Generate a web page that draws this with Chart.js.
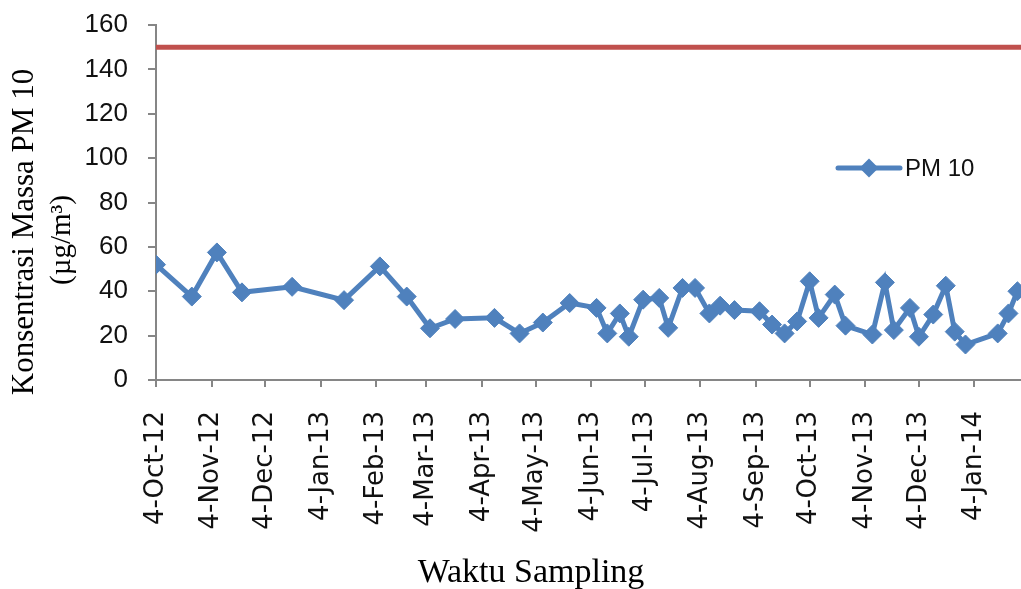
<!DOCTYPE html>
<html><head><meta charset="utf-8">
<script src="https://cdn.jsdelivr.net/npm/chart.js@4.4.1/dist/chart.umd.min.js"></script>
<style>html,body{margin:0;padding:0;background:#fff;overflow:hidden;} #wrap{width:1021px;height:589px;position:relative;}</style>
</head><body><div id="wrap"><canvas id="c"></canvas></div>
<script>
// ---- data ----
const sampleDates = [
  '2012-10-04','2012-10-24','2012-11-07','2012-11-21','2012-12-19','2013-01-17','2013-02-06','2013-02-21',
  '2013-03-06','2013-03-20','2013-04-11','2013-04-25','2013-05-08','2013-05-23','2013-06-07','2013-06-13',
  '2013-06-20','2013-06-25','2013-07-03','2013-07-12','2013-07-17','2013-07-25','2013-08-01','2013-08-09',
  '2013-08-15','2013-08-23','2013-09-06','2013-09-13','2013-09-20','2013-09-27','2013-10-04','2013-10-09',
  '2013-10-18','2013-10-24','2013-11-08','2013-11-15','2013-11-20','2013-11-29','2013-12-04','2013-12-12',
  '2013-12-19','2013-12-24','2013-12-30','2014-01-17','2014-01-23','2014-01-28'
];
const pm10Values = [
  52, 37.6, 57.5, 39.5, 42, 36, 51.2, 37.6,
  23.3, 27.5, 28, 21, 25.9, 34.7, 32.5, 21,
  30, 19.5, 36.2, 37, 23.5, 41.5, 41.5, 30,
  33.5, 31.5, 31, 25, 21, 26.4, 44.5, 28,
  38.5, 24.5, 20.5, 44, 22.5, 32.5, 19.5, 29.5,
  42.5, 21.8, 16, 21, 30, 40
];
const seriesName = 'PM 10';
const thresholdValue = 150;
const axisStartDate = '2012-10-04';
const axisEndDate = '2014-01-30';
const xTickDates = ['2012-10-04','2012-11-04','2012-12-04','2013-01-04','2013-02-04','2013-03-04','2013-04-04','2013-05-04',
  '2013-06-04','2013-07-04','2013-08-04','2013-09-04','2013-10-04','2013-11-04','2013-12-04','2014-01-04'];
const xTickLabels = ['4-Oct-12','4-Nov-12','4-Dec-12','4-Jan-13','4-Feb-13','4-Mar-13','4-Apr-13','4-May-13',
  '4-Jun-13','4-Jul-13','4-Aug-13','4-Sep-13','4-Oct-13','4-Nov-13','4-Dec-13','4-Jan-14'];
const yMin = 0, yMax = 160, yStep = 20;
const xAxisTitle = 'Waktu Sampling';
const yAxisTitleLines = ['Konsentrasi Massa PM 10', '(µg/m³)'];

// ---- helpers ----
function dayNum(s){
  const p = s.split('-').map(Number);
  const b = axisStartDate.split('-').map(Number);
  return (Date.UTC(p[0],p[1]-1,p[2]) - Date.UTC(b[0],b[1]-1,b[2]))/86400000;
}
const xMin = dayNum(axisStartDate), xMax = dayNum(axisEndDate);
const tickVals = xTickDates.map(dayNum);
const labelMap = {};
tickVals.forEach((v,i)=>{labelMap[v]=xTickLabels[i];});

const BLUE = '#4F81BD', RED = '#C0504D', AXIS = '#868686';

const annot = {
  id:'annot',
  afterDraw(chart){
    const ctx = chart.ctx;
    ctx.save();
    ctx.fillStyle = '#000';
    ctx.textAlign = 'center';
    ctx.textBaseline = 'alphabetic';
    ctx.font = '34px "Liberation Serif"';
    ctx.fillText(xAxisTitle, 531, 582);
    ctx.restore();

    ctx.save();
    ctx.fillStyle = '#000';
    ctx.textAlign = 'center';
    ctx.textBaseline = 'alphabetic';
    ctx.translate(33, 232); ctx.rotate(-Math.PI/2);
    ctx.font = '31px "Liberation Serif"';
    ctx.fillText(yAxisTitleLines[0], 0, 0);
    ctx.restore();

    ctx.save();
    ctx.fillStyle = '#000';
    ctx.textAlign = 'center';
    ctx.textBaseline = 'alphabetic';
    ctx.translate(70, 240); ctx.rotate(-Math.PI/2);
    ctx.font = '29px "Liberation Serif"';
    ctx.fillText(yAxisTitleLines[1], 0, 0);
    ctx.restore();

    // legend
    const ly = 168, lx0 = 838, lx1 = 900, mx = 869, r = 9.5;
    ctx.save();
    ctx.strokeStyle = BLUE; ctx.lineWidth = 5; ctx.lineCap = 'round';
    ctx.beginPath(); ctx.moveTo(lx0, ly); ctx.lineTo(lx1, ly); ctx.stroke();
    ctx.fillStyle = BLUE;
    ctx.beginPath(); ctx.moveTo(mx-r, ly); ctx.lineTo(mx, ly-r); ctx.lineTo(mx+r, ly); ctx.lineTo(mx, ly+r); ctx.closePath(); ctx.fill();
    ctx.fillStyle = '#111';
    ctx.font = '24px "Liberation Sans"';
    ctx.textAlign = 'left'; ctx.textBaseline = 'middle';
    ctx.fillText(seriesName, 905, ly+1);
    ctx.restore();
  }
};

new Chart(document.getElementById('c'), {
  type: 'line',
  data: {
    datasets: [
      {
        label: seriesName,
        data: sampleDates.map((d,i)=>({x: dayNum(d), y: pm10Values[i]})),
        borderColor: BLUE, backgroundColor: BLUE,
        borderWidth: 5, tension: 0,
        pointStyle: 'rectRot', pointRadius: 9.5, pointBorderWidth: 1,
        pointBackgroundColor: BLUE, pointBorderColor: BLUE
      },
      {
        label: 'Baku mutu',
        data: [{x: xMin, y: thresholdValue}, {x: xMax, y: thresholdValue}],
        borderColor: RED, borderWidth: 5, pointRadius: 0, tension: 0
      }
    ]
  },
  options: {
    responsive: true, maintainAspectRatio: false, animation: false,
    layout: { autoPadding: false, padding: { left: 0, right: 0, top: 25, bottom: 0 } },
    plugins: { legend: { display: false }, tooltip: { enabled: false } },
    scales: {
      x: {
        type: 'linear', min: xMin, max: xMax,
        afterBuildTicks: (s) => { s.ticks = tickVals.map(v=>({value:v})); },
        afterFit: (s) => { s.height = 209; s.paddingLeft = 0; s.paddingRight = 0; },
        border: { display: true, color: AXIS, width: 2 },
        grid: { display: true, drawOnChartArea: false, drawTicks: true, tickLength: 7, color: AXIS, lineWidth: 2 },
        ticks: {
          autoSkip: false, maxRotation: 90, minRotation: 90, padding: 24,
          color: '#111', font: { family: 'DejaVu Sans', size: 26 },
          callback: (v) => labelMap[v] !== undefined ? labelMap[v] : ''
        }
      },
      y: {
        min: yMin, max: yMax,
        afterFit: (s) => { s.width = 156; s.paddingTop = 0; s.paddingBottom = 0; },
        border: { display: true, color: AXIS, width: 2 },
        grid: { display: true, drawOnChartArea: false, drawTicks: true, tickLength: 8, color: AXIS, lineWidth: 2 },
        ticks: { stepSize: yStep, padding: 20, color: '#111', font: { family: 'Liberation Sans', size: 26 } }
      }
    }
  },
  plugins: [annot]
});
</script>
</body></html>
